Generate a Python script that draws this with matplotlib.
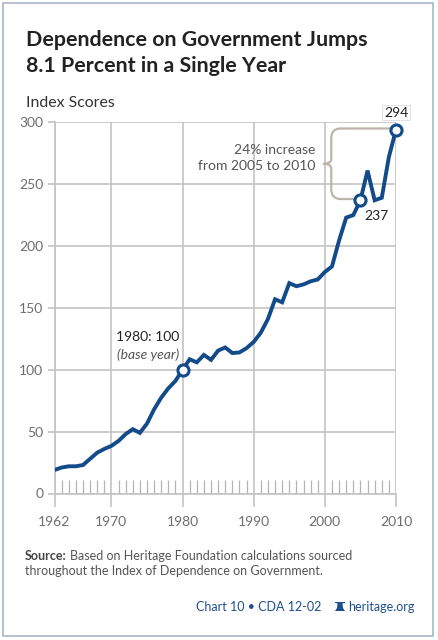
import matplotlib
matplotlib.use("Agg")
import matplotlib.pyplot as plt
from matplotlib.path import Path
from matplotlib.patches import PathPatch, Rectangle, Polygon

years = list(range(1962, 2011))
index_scores = [19, 21, 22, 22, 23, 28, 33, 36, 38.5, 42.5, 48, 52, 49, 56.5, 68,
                77.5, 85, 91, 100, 108.5, 106, 112, 108, 115.5, 118, 113.5, 114, 117.5,
                122.5, 130, 141, 157, 154.5, 170, 167.5, 169, 171.5, 173, 179, 183.5,
                204.5, 223, 225, 237, 261, 237, 239, 272, 294]
highlight_years = [1980, 2005, 2010]
highlight_values = [100, 237, 294]
y_ticks = [0, 50, 100, 150, 200, 250, 300]
x_ticks = [1962, 1970, 1980, 1990, 2000, 2010]

W, H = 438, 640
fig = plt.figure(figsize=(W / 100, H / 100), dpi=100)
fig.patch.set_facecolor("white")
renderer = fig.canvas.get_renderer()

def fx(px):
    return px / W

def fy(py):
    return 1 - py / H

def fit(t, target_px):
    w = t.get_window_extent(renderer).width
    t.set_fontsize(t.get_fontsize() * target_px / w)

# frame
fig.patches.append(Rectangle((fx(3), fy(636)), fx(430), 633 / H, transform=fig.transFigure,
                             fill=False, edgecolor="#a8b6ca", lw=1.2))

ax = fig.add_axes([fx(54.5), fy(493.5), fx(396 - 54.5), (493.5 - 122.3) / H])
ax.set_xlim(1962, 2010)
ax.set_ylim(0, 300)
grid_c = "#c4c4c4"
for s in ax.spines.values():
    s.set_color(grid_c)
    s.set_linewidth(1.2)
ax.spines["top"].set_visible(False)
ax.spines["right"].set_visible(False)
ax.set_yticks(y_ticks)
ax.set_xticks(x_ticks)
ax.set_xticks([y for y in years if y not in x_ticks], minor=True)
ax.grid(True, which="major", color=grid_c, lw=1.2)
ax.set_axisbelow(True)
ax.tick_params(axis="y", which="major", direction="out", length=5, width=1.2, color=grid_c,
               labelsize=10, labelcolor="#6e6e6e", pad=3)
ax.tick_params(axis="x", which="major", direction="out", length=9, width=1.2, color=grid_c,
               labelsize=10, labelcolor="#6e6e6e", pad=7)
ax.tick_params(axis="x", which="minor", direction="in", length=10, width=0.9, color="#b4b4b4")
for lab in ax.get_xticklabels() + ax.get_yticklabels():
    lab.set_fontfamily("Lato")

ax.plot(years, index_scores, color="#134a8a", lw=2.8, solid_joinstyle="miter", zorder=3)
ax.plot(highlight_years, highlight_values, "o", ms=8, mfc="white", mec="#134a8a", mew=2.2,
        zorder=4, clip_on=False)

# annotations
ax.text(1975.1, 123.5, "1980: 100", ha="center", va="baseline", fontsize=10, color="#222222",
        family="Lato")
ax.text(1975.1, 109, "(base year)", ha="center", va="baseline", fontsize=10, color="#555555",
        family="Lato", style="italic")
ax.text(2010, 303, "294", ha="center", va="bottom", fontsize=10, color="#222222", family="Lato",
        bbox=dict(boxstyle="square,pad=0.12", fc="white", ec="#dddddd", lw=0.6))
ax.text(2005.5, 229, "237", ha="left", va="top", fontsize=10, color="#222222", family="Lato")
ax.text(1998.7, 278, "24% increase", ha="right", va="center", fontsize=10,
        color="#555555", family="Lato")
ax.text(1998.7, 265, "from 2005 to 2010", ha="right", va="center", fontsize=10,
        color="#555555", family="Lato")

# brace
bc = "#bab6ab"
xb = 2000.9
xt = 1999.8
yt, ybm = 295, 238
ym = (yt + ybm) / 2
verts = [(2009.3, yt), (xb + 1.3, yt), (xb, yt), (xb, yt - 8),
         (xb, ym + 4), (xb, ym), (xt, ym),
         (xb, ym), (xb, ym - 4), (xb, ybm + 8),
         (xb, ybm), (xb + 1.3, ybm), (2004.3, ybm)]
codes = [Path.MOVETO, Path.LINETO, Path.CURVE3, Path.CURVE3,
         Path.LINETO, Path.CURVE3, Path.CURVE3,
         Path.CURVE3, Path.CURVE3, Path.LINETO,
         Path.CURVE3, Path.CURVE3, Path.LINETO]
ax.add_patch(PathPatch(Path(verts, codes), fill=False, edgecolor=bc, lw=1.6, zorder=2))

# titles
t1 = fig.text(fx(26), fy(46), "Dependence on Government Jumps", ha="left", va="baseline",
              fontsize=17, family="Lato", weight="bold", color="#222222")
fit(t1, 342)
t2 = fig.text(fx(26), fy(72), "8.1 Percent in a Single Year", ha="left", va="baseline",
              fontsize=t1.get_fontsize(), family="Lato", weight="bold", color="#222222")
ti = fig.text(fx(26), fy(107), "Index Scores", ha="left", va="baseline", fontsize=12,
              family="Lato", color="#333333")
fit(ti, 89)

src_b = fig.text(fx(25), fy(560), "Source:", ha="left", va="baseline", fontsize=9,
                 family="Lato", weight="bold", color="#444444")
wb = src_b.get_window_extent(renderer).width
fig.text(fx(25 + wb + 3), fy(560), "Based on Heritage Foundation calculations sourced",
         ha="left", va="baseline", fontsize=9, family="Lato", color="#555555")
fig.text(fx(25), fy(575), "throughout the Index of Dependence on Government.",
         ha="left", va="baseline", fontsize=9, family="Lato", color="#555555")

blue = "#1f4f8f"
fig.text(fx(321), fy(611), "Chart 10 \u2022 CDA 12-02", ha="right", va="baseline", fontsize=9,
         family="Lato", color=blue)
fig.text(fx(348), fy(611), "heritage.org", ha="left", va="baseline", fontsize=9,
         family="Lato", color=blue)
# bell icon
bell = [(fx(335), fy(611)), (fx(345), fy(611)), (fx(343), fy(608)), (fx(342.5), fy(603.5)),
        (fx(344), fy(603)), (fx(336), fy(603)), (fx(337.5), fy(603.5)), (fx(337), fy(608))]
fig.patches.append(Polygon(bell, closed=True, transform=fig.transFigure, fc=blue, ec="none"))
fig.patches.append(Rectangle((fx(335), fy(603)), fx(10), 1.5 / H, transform=fig.transFigure,
                             fc=blue, ec="none"))

fig.savefig("out.png", dpi=100)
